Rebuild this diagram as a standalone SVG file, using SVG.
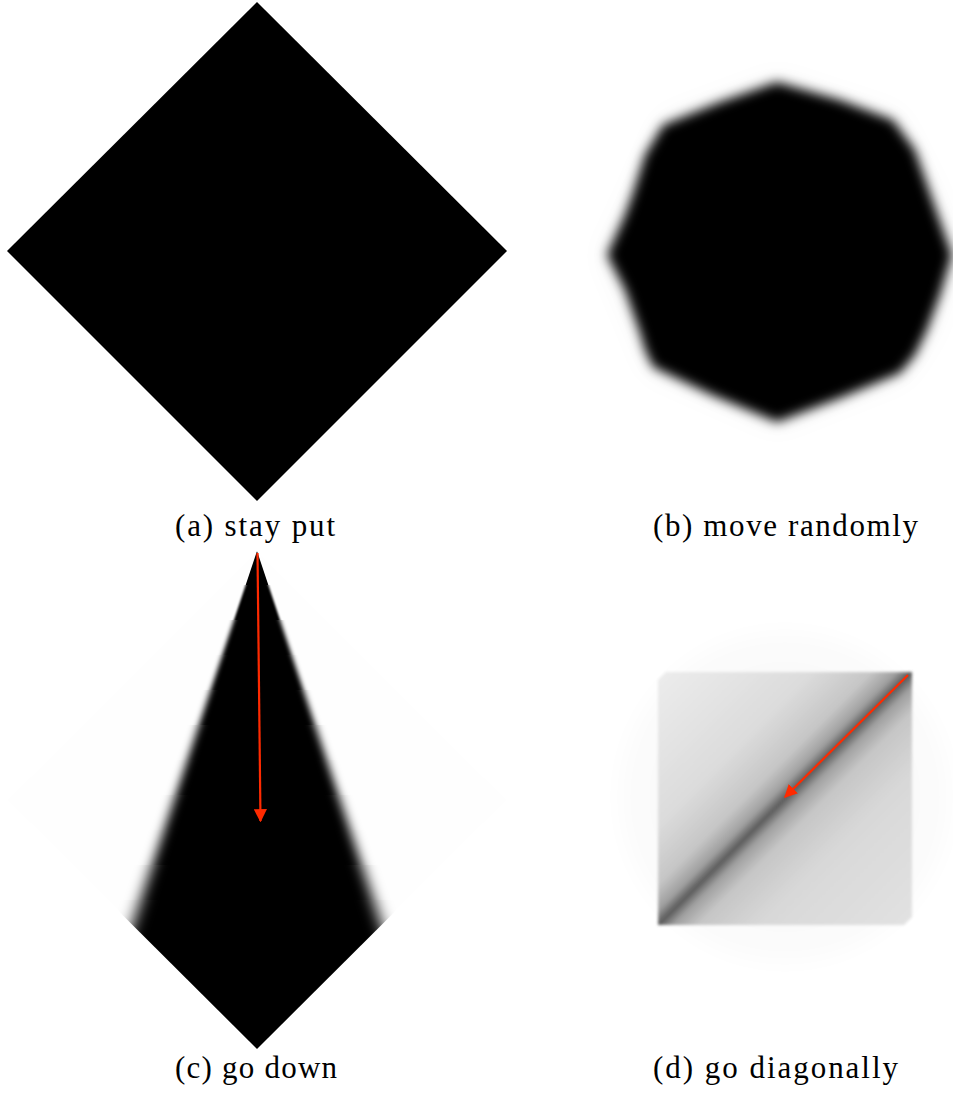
<svg xmlns="http://www.w3.org/2000/svg" width="953" height="1097" viewBox="0 0 953 1097">
<style>
.cap{font-family:"Liberation Serif","DejaVu Serif",serif;font-size:31px;fill:#000}
.arr{stroke:#ff2a00;stroke-width:2.2;fill:none}
.k{fill:#000}
</style>
<defs>
<filter id="blurB" x="-20%" y="-20%" width="140%" height="140%"><feGaussianBlur stdDeviation="6"/></filter>
<filter id="b1" x="-20%" y="-20%" width="140%" height="140%"><feGaussianBlur stdDeviation="0.5"/></filter>
<filter id="b2" x="-20%" y="-20%" width="140%" height="140%"><feGaussianBlur stdDeviation="1.2"/></filter>
<filter id="b3" x="-20%" y="-20%" width="140%" height="140%"><feGaussianBlur stdDeviation="1.9"/></filter>
<filter id="b4" x="-20%" y="-20%" width="140%" height="140%"><feGaussianBlur stdDeviation="2.6"/></filter>
<filter id="b5" x="-20%" y="-20%" width="140%" height="140%"><feGaussianBlur stdDeviation="3.3"/></filter>
<filter id="b6" x="-20%" y="-20%" width="140%" height="140%"><feGaussianBlur stdDeviation="4"/></filter>
<filter id="b7" x="-20%" y="-20%" width="140%" height="140%"><feGaussianBlur stdDeviation="4.7"/></filter>
<filter id="b8" x="-20%" y="-20%" width="140%" height="140%"><feGaussianBlur stdDeviation="5.4"/></filter>
<filter id="b9" x="-20%" y="-20%" width="140%" height="140%"><feGaussianBlur stdDeviation="6.1"/></filter>
<filter id="b10" x="-20%" y="-20%" width="140%" height="140%"><feGaussianBlur stdDeviation="6.8"/></filter>
<filter id="b11" x="-20%" y="-20%" width="140%" height="140%"><feGaussianBlur stdDeviation="7.5"/></filter>
<filter id="blurD" x="-20%" y="-20%" width="140%" height="140%"><feGaussianBlur stdDeviation="1.5"/></filter>
<filter id="blurHalo" x="-30%" y="-30%" width="160%" height="160%"><feGaussianBlur stdDeviation="12"/></filter>
<clipPath id="diamondC"><polygon points="257,551 7,800 257,1049 507,800"/></clipPath>
<clipPath id="r1"><rect x="0" y="540" width="520" height="45"/></clipPath>
<clipPath id="r2"><rect x="0" y="585" width="520" height="35"/></clipPath>
<clipPath id="r3"><rect x="0" y="620" width="520" height="35"/></clipPath>
<clipPath id="r4"><rect x="0" y="655" width="520" height="35"/></clipPath>
<clipPath id="r5"><rect x="0" y="690" width="520" height="35"/></clipPath>
<clipPath id="r6"><rect x="0" y="725" width="520" height="35"/></clipPath>
<clipPath id="r7"><rect x="0" y="760" width="520" height="35"/></clipPath>
<clipPath id="r8"><rect x="0" y="795" width="520" height="35"/></clipPath>
<clipPath id="r9"><rect x="0" y="830" width="520" height="35"/></clipPath>
<clipPath id="r10"><rect x="0" y="865" width="520" height="35"/></clipPath>
<clipPath id="r11"><rect x="0" y="900" width="520" height="160"/></clipPath>
<polygon id="tri" points="257,551 74,1100 440,1100"/>
<linearGradient id="diag" x1="0" y1="0" x2="1" y2="1">
<stop offset="0" stop-color="#ececec"/>
<stop offset="0.3" stop-color="#dcdcdc"/>
<stop offset="0.42" stop-color="#c6c6c6"/>
<stop offset="0.47" stop-color="#a0a0a0"/>
<stop offset="0.5" stop-color="#5c5c5c"/>
<stop offset="0.53" stop-color="#a0a0a0"/>
<stop offset="0.58" stop-color="#c6c6c6"/>
<stop offset="0.7" stop-color="#d8d8d8"/>
<stop offset="1" stop-color="#e2e2e2"/>
</linearGradient>
<marker id="ah" viewBox="0 0 10 10" refX="9" refY="5" markerWidth="6" markerHeight="6" orient="auto" markerUnits="strokeWidth">
<path d="M0,0 L10,5 L0,10 z" fill="#ff2a00"/>
</marker>
</defs>
<rect width="953" height="1097" fill="#fff"/>

<g id="panel-a">
<polygon points="257,2 507,251 257,501 7,251" fill="#000"/>
<text class="cap" x="175" y="536" textLength="160" lengthAdjust="spacing">(a) stay put</text>
</g>

<g id="panel-b">
<polygon points="777,82 893,120 930,193 952,255 927,330 900,373 777,422 653,367 640,333 607,255 633,200 667,123" fill="#000" opacity="0.025" filter="url(#blurHalo)" transform="translate(777 252) scale(1.06) translate(-777 -252)"/>
<polygon points="777,82 840,100 893,120 915,150 930,193 952,255 940,295 927,330 915,355 900,373 840,398 777,422 712,395 653,367 645,350 640,333 625,290 607,255 625,215 633,193 645,155 663,125 720,102" fill="#000" filter="url(#blurB)"/>
<text class="cap" x="653" y="536" textLength="265" lengthAdjust="spacing">(b) move randomly</text>
</g>

<g id="panel-c">
<g clip-path="url(#diamondC)">
<polygon points="257,551 7,800 257,1049 507,800" fill="#000" opacity="0.004"/>
<g clip-path="url(#r1)"><use href="#tri" class="k" filter="url(#b1)"/></g>
<g clip-path="url(#r2)"><use href="#tri" class="k" filter="url(#b2)"/></g>
<g clip-path="url(#r3)"><use href="#tri" class="k" filter="url(#b3)"/></g>
<g clip-path="url(#r4)"><use href="#tri" class="k" filter="url(#b4)"/></g>
<g clip-path="url(#r5)"><use href="#tri" class="k" filter="url(#b5)"/></g>
<g clip-path="url(#r6)"><use href="#tri" class="k" filter="url(#b6)"/></g>
<g clip-path="url(#r7)"><use href="#tri" class="k" filter="url(#b7)"/></g>
<g clip-path="url(#r8)"><use href="#tri" class="k" filter="url(#b8)"/></g>
<g clip-path="url(#r9)"><use href="#tri" class="k" filter="url(#b9)"/></g>
<g clip-path="url(#r10)"><use href="#tri" class="k" filter="url(#b10)"/></g>
<g clip-path="url(#r11)"><use href="#tri" class="k" filter="url(#b11)"/></g>
</g>
<text class="cap" x="175" y="1078" textLength="162" lengthAdjust="spacing">(c) go down</text>
</g>

<g id="panel-d">
<ellipse cx="785" cy="797" rx="165" ry="165" fill="#000" opacity="0.015" filter="url(#blurHalo)"/>
<polygon points="666,672 912,672 912,917 904,925 658,925 658,680" fill="url(#diag)" filter="url(#blurD)"/>
<text class="cap" x="653" y="1078" textLength="245" lengthAdjust="spacing">(d) go diagonally</text>
</g>

<g id="connectors">
<line class="arr" x1="257.5" y1="553" x2="260.5" y2="821" marker-end="url(#ah)"/>
<line class="arr" x1="908" y1="675" x2="785" y2="797" marker-end="url(#ah)"/>
</g>
</svg>
